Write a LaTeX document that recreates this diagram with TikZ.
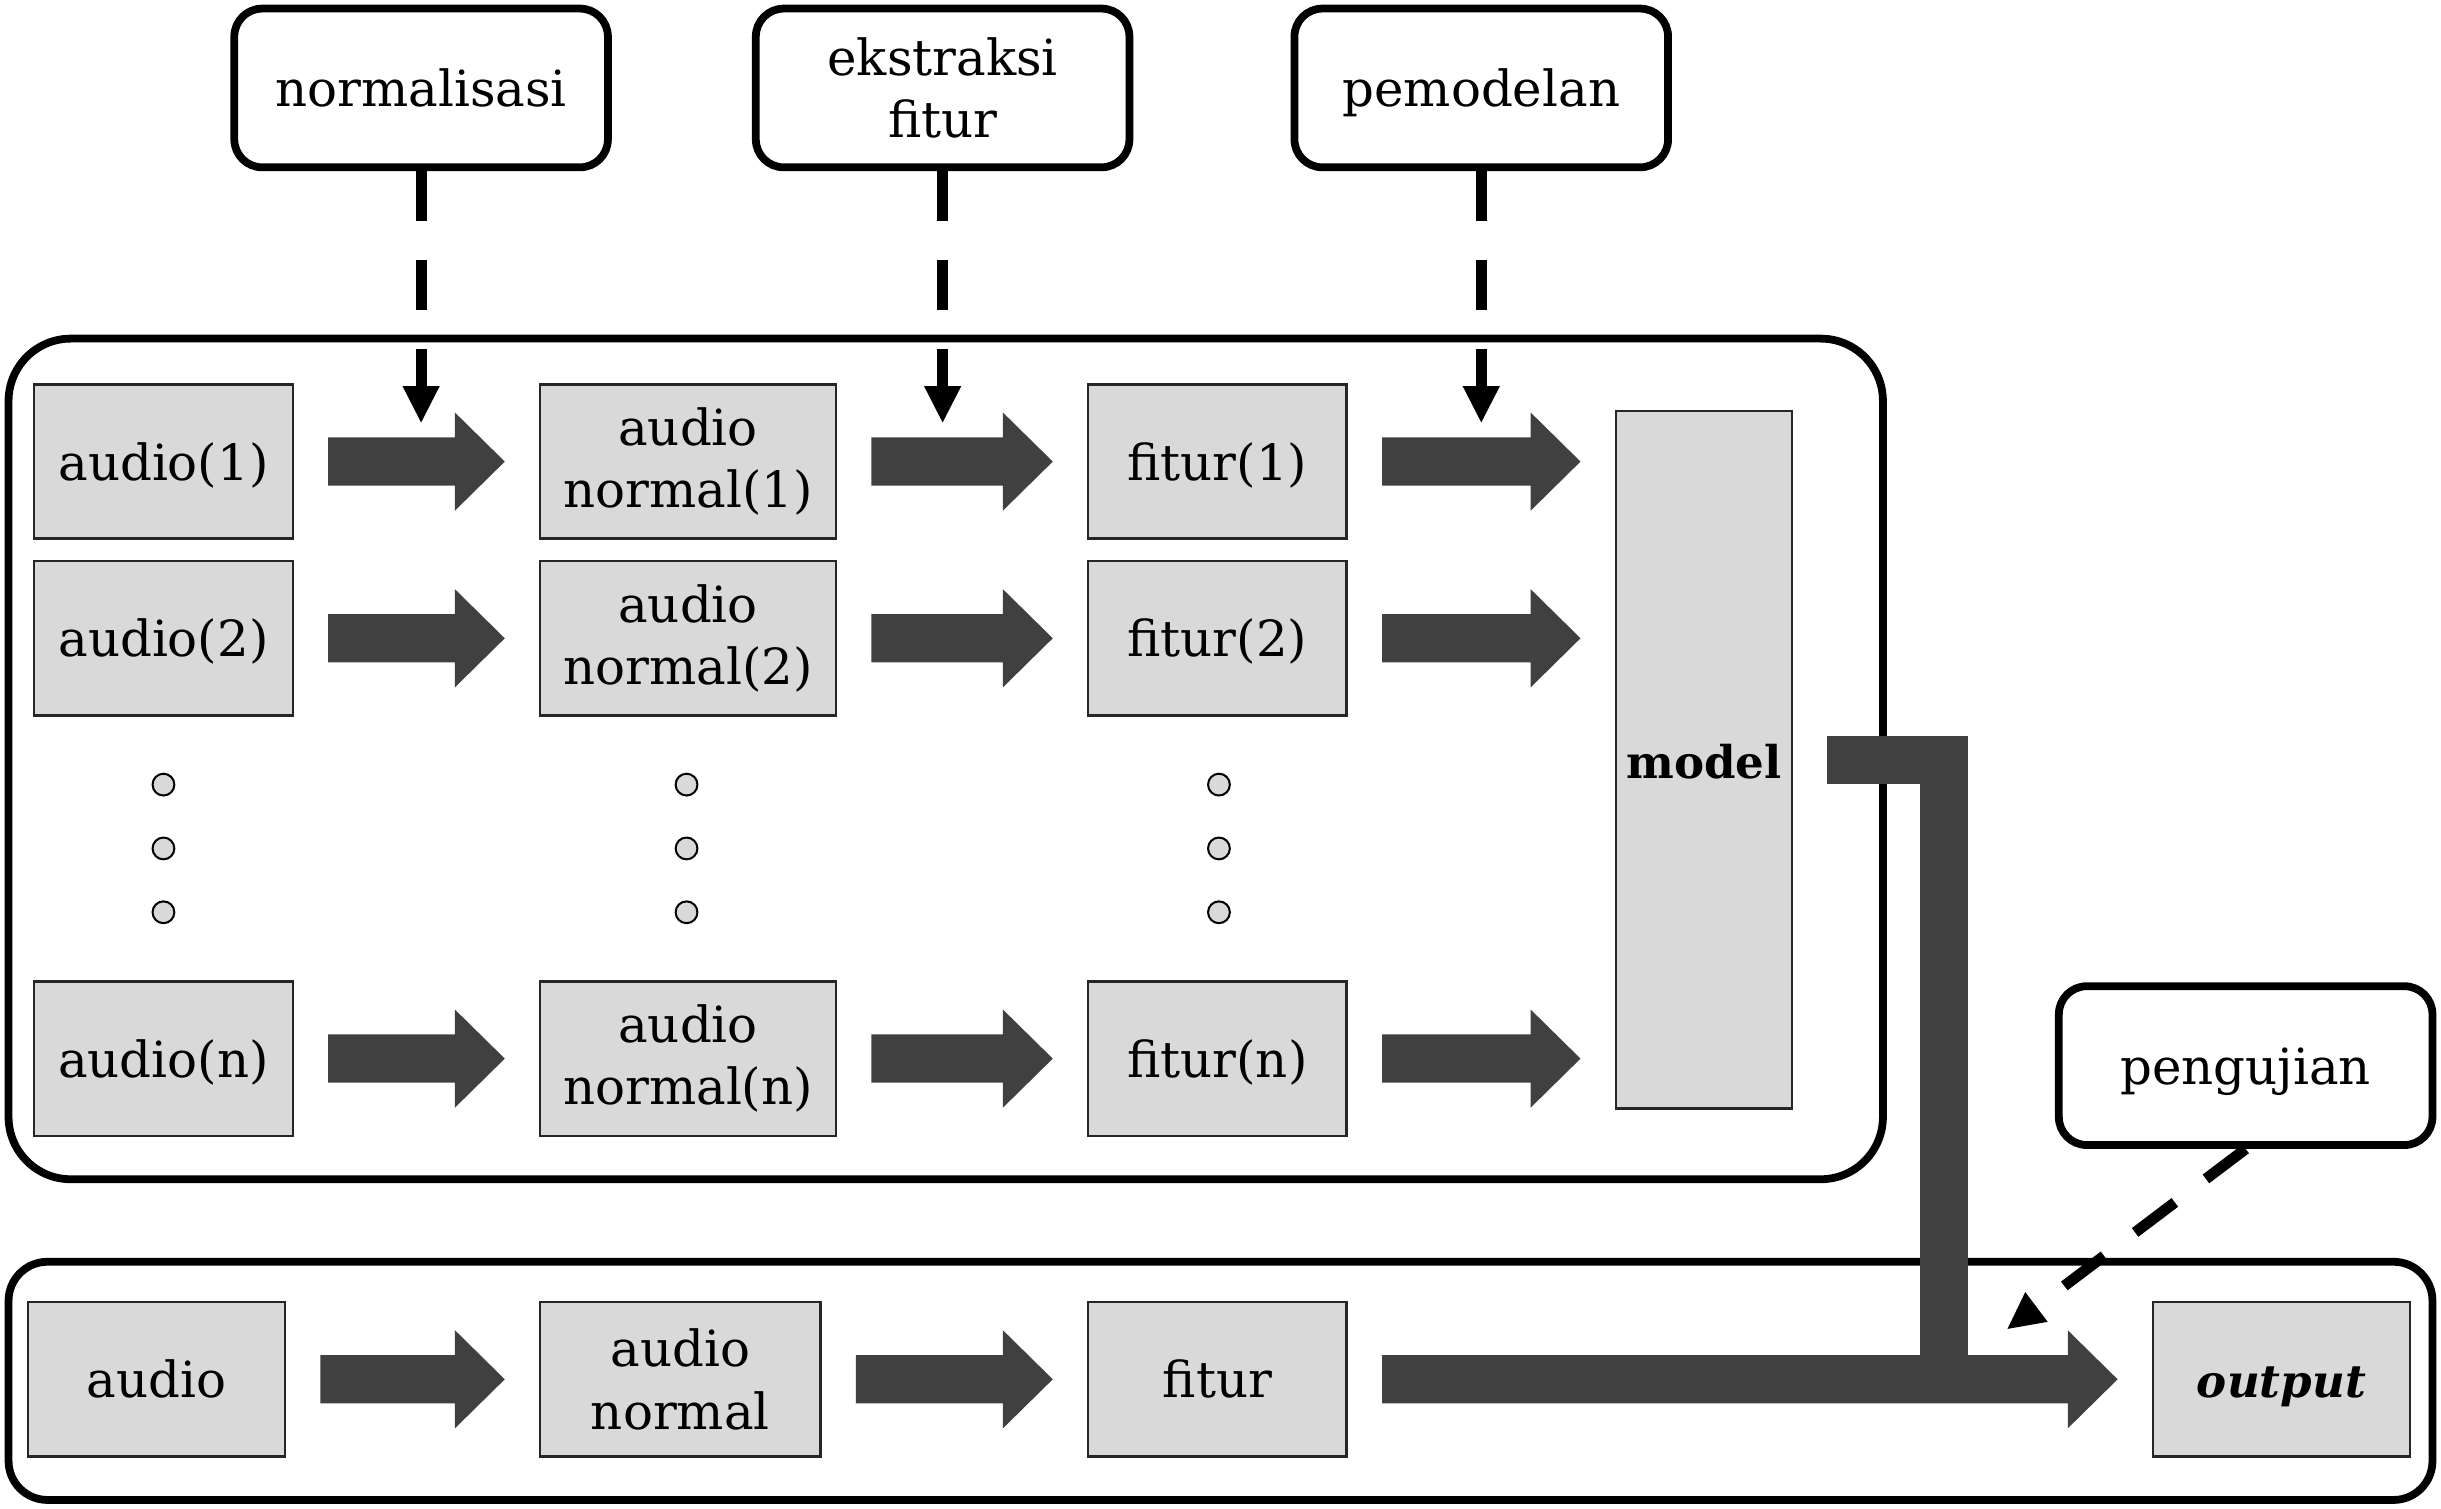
\documentclass[tikz,border=0pt]{standalone}
\usepackage{fontspec}
\setmainfont{DejaVu Serif}
\usetikzlibrary{arrows.meta,calc}
\definecolor{boxgray}{HTML}{D9D9D9}
\definecolor{arrowgray}{HTML}{404040}
\newcommand\fatarr[2]{%
  \fill[arrowgray] let \p1=(#1), \p2=(#2) in
    (\x1+22pt,\y1+15.5pt) -- (\x2-54pt,\y1+15.5pt) -- (\x2-54pt,\y1+31.5pt)
    -- (\x2-22pt,\y1) -- (\x2-54pt,\y1-31.5pt) -- (\x2-54pt,\y1-15.5pt)
    -- (\x1+22pt,\y1-15.5pt) -- cycle;}
\begin{document}
\begin{tikzpicture}[x=1pt,y=-1pt,
  font=\fontsize{32}{40}\selectfont,
  gbox/.style={draw=black!85, line width=1.5pt, fill=boxgray, inner sep=0pt,
    align=center, minimum height=99pt},
  tbox/.style={draw=black, line width=5pt, rounded corners=18pt, fill=white,
    minimum width=240pt, minimum height=102pt, align=center, inner sep=0pt},
  oneline/.style={text height=24pt, text depth=0pt},
  boldlabel/.style={font=\fontsize{29}{36}\selectfont\bfseries},
  frame/.style={draw=black, line width=5pt, inner sep=0pt},
  dasharrow/.style={line width=7pt, dash pattern=on 32pt off 25pt,
    -{Triangle[length=24pt,width=22pt]}},
  dotnode/.style={circle, draw=black, line width=1.3pt, fill=boxgray,
    minimum size=14pt, inner sep=0pt},
  bar/.style={draw=arrowgray, line width=31pt, line join=miter}]
\useasboundingbox (0,0) rectangle (1568,969);

% frames
\node[frame, rounded corners=40pt, minimum width=1204pt, minimum height=540pt] (fr1) at (607.5,487.5) {};
\node[frame, rounded corners=25pt, minimum width=1557pt, minimum height=153pt] (fr2) at (784,887) {};

% gray boxes
\node[gbox, oneline, minimum width=166pt] (a1) at (105,296.5) {audio(1)};
\node[gbox, oneline, minimum width=166pt] (a2) at (105,410) {audio(2)};
\node[gbox, oneline, minimum width=166pt] (an) at (105,680) {audio(n)};
\node[gbox, minimum width=190pt] (b1) at (442,296.5) {audio\\normal(1)};
\node[gbox, minimum width=190pt] (b2) at (442,410) {audio\\normal(2)};
\node[gbox, minimum width=190pt] (bn) at (442,680) {audio\\normal(n)};
\node[gbox, oneline, minimum width=166pt] (c1) at (782,296.5) {fitur(1)};
\node[gbox, oneline, minimum width=166pt] (c2) at (782,410) {fitur(2)};
\node[gbox, oneline, minimum width=166pt] (cn) at (782,680) {fitur(n)};
\node[gbox, boldlabel, oneline, minimum width=113pt, minimum height=448pt] (model) at (1094.5,488) {model};

\node[gbox, oneline, minimum width=165pt] (ab) at (100.5,886) {audio};
\node[gbox, minimum width=180pt] (bb) at (437,886) {audio\\normal};
\node[gbox, oneline, minimum width=166pt] (cb) at (782,886) {fitur};
\node[gbox, boldlabel, oneline, minimum width=165pt] (out) at (1465.5,886) {\itshape output};

% dots
\foreach \x/\n in {105/a,441/b,783/c}
  \foreach \y/\m in {504/1,545/2,586/3}
    \node[dotnode] (d\n\m) at (\x,\y) {};

% fat arrows
\fatarr{a1.east}{b1.west}
\fatarr{a2.east}{b2.west}
\fatarr{an.east}{bn.west}
\fatarr{b1.east}{c1.west}
\fatarr{b2.east}{c2.west}
\fatarr{bn.east}{cn.west}
\fatarr{c1.east}{c1.east -| model.west}
\fatarr{c2.east}{c2.east -| model.west}
\fatarr{cn.east}{cn.east -| model.west}
\fatarr{ab.east}{bb.west}
\fatarr{bb.east}{cb.west}
\fatarr{cb.east}{out.west}
\coordinate (mj) at (1248.5,887);
\draw[bar] ([xshift=22pt]model.east) -| (mj);

% top boxes
\node[tbox, oneline] (tn) at (270.5,56.5) {normalisasi};
\node[tbox] (te) at (605.5,56.5) {ekstraksi\\fitur};
\node[tbox, oneline] (tp) at (951.5,56.5) {pemodelan};
\node[tbox, oneline] (tu) at (1442.5,684.5) {pengujian};

\coordinate (tnend) at (270.5,272);
\coordinate (teend) at (605.5,272);
\coordinate (tpend) at (951.5,272);
\coordinate (tuend) at (1289,854);
\draw[dasharrow] (tn.south) -- (tnend);
\draw[dasharrow] (te.south) -- (teend);
\draw[dasharrow] (tp.south) -- (tpend);
\draw[dasharrow] (tu.south) -- (tuend);
\end{tikzpicture}
\end{document}
